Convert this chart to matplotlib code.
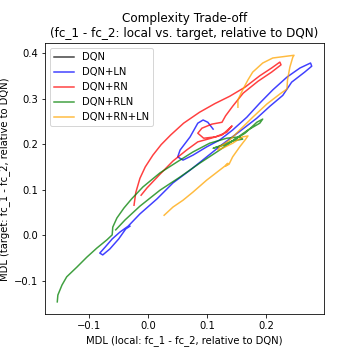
import matplotlib
matplotlib.use("Agg")
import matplotlib.pyplot as plt

# trajectories (local MDL diff, target MDL diff)
ln_x = [0.110, 0.101, 0.093, 0.084, 0.071, 0.054, 0.050, 0.059, 0.076, 0.099, 0.121, 0.143,
        0.167, 0.189, 0.211, 0.235, 0.257, 0.275, 0.277, 0.265, 0.243, 0.228, 0.206, 0.184,
        0.155, 0.126, 0.099, 0.071, 0.042, 0.015, -0.014, -0.034, -0.048, -0.061, -0.073,
        -0.082, -0.077, -0.065, -0.050, -0.038, -0.031]
ln_y = [0.233, 0.248, 0.253, 0.246, 0.216, 0.187, 0.172, 0.165, 0.176, 0.194, 0.209, 0.231,
        0.259, 0.290, 0.319, 0.347, 0.367, 0.378, 0.371, 0.358, 0.336, 0.307, 0.283, 0.257,
        0.228, 0.200, 0.172, 0.143, 0.115, 0.080, 0.047, 0.020, 0.007, -0.008, -0.026,
        -0.039, -0.043, -0.030, -0.008, 0.014, 0.020]

rn_x = [-0.024, -0.021, -0.014, -0.005, 0.008, 0.022, 0.038, 0.060, 0.087, 0.113,
        0.138, 0.164, 0.189, 0.209, 0.223, 0.225, 0.209, 0.186, 0.161, 0.143, 0.131, 0.125,
        0.108, 0.091, 0.084, 0.094, 0.114, 0.133, 0.142, 0.125, 0.101, 0.084, 0.065, 0.042,
        0.020, -0.002, -0.012]
rn_y = [0.066, 0.094, 0.125, 0.150, 0.176, 0.199, 0.220, 0.246, 0.270, 0.289,
        0.305, 0.325, 0.350, 0.367, 0.380, 0.374, 0.358, 0.338, 0.312, 0.283, 0.262, 0.248,
        0.244, 0.235, 0.224, 0.213, 0.216, 0.226, 0.240, 0.220, 0.211, 0.205, 0.187, 0.163,
        0.134, 0.104, 0.088]

rln_x = [-0.154, -0.153, -0.146, -0.138, -0.121, -0.104, -0.087, -0.070, -0.061, -0.060,
         -0.053, -0.041, -0.028, -0.009, 0.020, 0.049, 0.076, 0.104, 0.133, 0.155, 0.160,
         0.143, 0.121, 0.110, 0.134, 0.164, 0.184, 0.194, 0.189, 0.169, 0.147, 0.121, 0.087,
         0.054, 0.020, -0.014, -0.039, -0.055]
rln_y = [-0.146, -0.131, -0.109, -0.091, -0.070, -0.048, -0.028, -0.010, 0.001, 0.018,
         0.038, 0.060, 0.080, 0.106, 0.137, 0.161, 0.183, 0.202, 0.213, 0.216, 0.211,
         0.207, 0.196, 0.191, 0.200, 0.224, 0.248, 0.255, 0.246, 0.231, 0.211, 0.187, 0.158,
         0.128, 0.099, 0.064, 0.034, 0.012]

rnln_x = [0.027, 0.042, 0.059, 0.076, 0.099, 0.121, 0.130, 0.135, 0.131, 0.137, 0.143,
          0.155, 0.164, 0.169, 0.160, 0.143, 0.126, 0.118, 0.121, 0.138, 0.155, 0.177,
          0.201, 0.223, 0.235, 0.236, 0.240, 0.245, 0.247, 0.235, 0.211, 0.194, 0.177,
          0.169, 0.160, 0.152, 0.152]
rnln_y = [0.044, 0.062, 0.077, 0.095, 0.121, 0.143, 0.152, 0.158, 0.152, 0.156, 0.172,
          0.194, 0.209, 0.218, 0.216, 0.202, 0.191, 0.187, 0.194, 0.209, 0.231, 0.259,
          0.288, 0.310, 0.321, 0.341, 0.369, 0.391, 0.395, 0.393, 0.389, 0.378, 0.358,
          0.341, 0.319, 0.297, 0.281]

labels = ["DQN", "DQN+LN", "DQN+RN", "DQN+RLN", "DQN+RN+LN"]
colors = ["black", "blue", "red", "green", "orange"]
series = [([], []), (ln_x, ln_y), (rn_x, rn_y), (rln_x, rln_y), (rnln_x, rnln_y)]

fig = plt.figure(figsize=(5, 5), dpi=72)
ax = fig.add_axes([0.125, 0.1264, 0.775, 0.753])
for (xs, ys), lab, c in zip(series, labels, colors):
    ax.plot(xs, ys, color=c, label=lab, alpha=0.75, lw=1.5)

ax.set_xlim(-0.1748, 0.2978)
ax.set_ylim(-0.1737, 0.421)
ax.set_xticks([-0.1, 0.0, 0.1, 0.2])
ax.set_yticks([-0.1, 0.0, 0.1, 0.2, 0.3, 0.4])
ax.set_title("Complexity Trade-off\n(fc_1 - fc_2: local vs. target, relative to DQN)")
ax.set_xlabel("MDL (local: fc_1 - fc_2, relative to DQN)")
ax.set_ylabel("MDL (target: fc_1 - fc_2, relative to DQN)")
ax.legend(loc="upper left")

fig.savefig("out.png", dpi=72)
